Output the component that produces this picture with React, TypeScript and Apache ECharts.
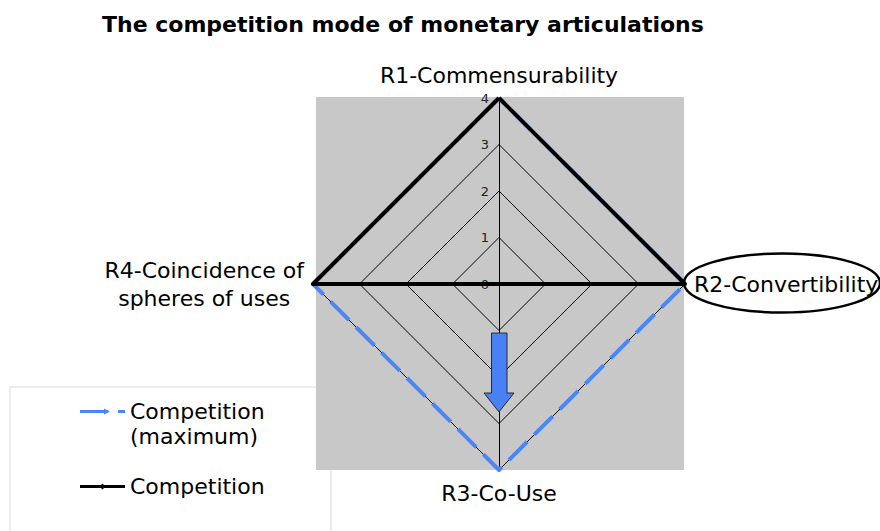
import React, { useEffect, useRef } from "react";
import * as echarts from "echarts";

const titleText = "The competition mode of monetary articulations";
const indicatorNames = [
  "R1-Commensurability",
  "R2-Convertibility",
  "R3-Co-Use",
  "R4-Coincidence of\nspheres of uses",
];
const indicatorMax = [4, 4, 4, 4];
const seriesNames = ["Competition (maximum)", "Competition"];
const competitionMax = [4, 4, 4, 4];
const competition = [4, 4, 0, 4];

// ECharts lays indicators counter-clockwise from the top; the reference runs clockwise.
const order = [0, 3, 2, 1];

export default function App() {
  const ref = useRef<HTMLDivElement>(null);
  useEffect(() => {
    if (!ref.current) return;
    const chart = echarts.init(ref.current, null, { renderer: "svg" });
    const font = "DejaVu Sans";
    const option: any = {
      animation: false,
      backgroundColor: "#ffffff",
      title: {
        text: titleText,
        left: 97,
        top: 8,
        textStyle: { fontFamily: font, fontSize: 22, fontWeight: "bold", color: "#000" },
      },
      graphic: [
        {
          type: "rect",
          z: -20,
          shape: { x: 10, y: 387, width: 321, height: 160 },
          style: { fill: "#ffffff", stroke: "#d9d9d9", lineWidth: 1 },
        },
        {
          type: "rect",
          z: -10,
          shape: { x: 316, y: 97, width: 368, height: 373 },
          style: { fill: "#c8c8c8" },
        },
        {
          type: "polygon",
          z: 100,
          shape: {
            points: [
              [491.5, 333],
              [507, 333],
              [507, 393],
              [514, 393],
              [499, 412],
              [484, 393],
              [491.5, 393],
            ],
          },
          style: { fill: "#4a80f5", stroke: "#2a2a2a", lineWidth: 1 },
        },
        {
          type: "ellipse",
          z: 100,
          shape: { cx: 782, cy: 283, rx: 98, ry: 29.5 },
          style: { fill: "none", stroke: "#000", lineWidth: 2.5 },
        },
      ],
      legend: {
        orient: "vertical",
        left: 80,
        top: 374,
        padding: 0,
        itemWidth: 45,
        itemHeight: 14,
        itemGap: 25,
        selectedMode: false,
        formatter: (n: string) => (n === seriesNames[0] ? " \nCompetition\n(maximum)" : n),
        textStyle: { fontFamily: font, fontSize: 22, color: "#000", lineHeight: 25 },
        data: [
          {
            name: seriesNames[0],
            icon: "path://M0,2.5L28,2.5L28,5.5L0,5.5Z M24,1L30,4L24,7Z M38,2.5L45,2.5L45,5.5L38,5.5Z",
          },
          {
            name: seriesNames[1],
            icon: "path://M0,2.5L45,2.5L45,5.5L0,5.5Z M22.5,1L25.5,4L22.5,7L19.5,4Z",
          },
        ],
      },
      radar: {
        center: [499, 284],
        radius: 186,
        shape: "polygon",
        splitNumber: 4,
        nameGap: 9,
        axisName: {
          color: "#000",
          fontFamily: font,
          fontSize: 22,
          lineHeight: 28,
          formatter: (name: string) =>
            name.indexOf("\n") >= 0
              ? name
                  .split("\n")
                  .map((l) => "{c|" + l + "}")
                  .join("\n")
              : name,
          rich: {
            c: { fontFamily: font, fontSize: 22, lineHeight: 28, color: "#000", align: "center" },
          },
        },
        axisLine: { show: true, lineStyle: { color: "#000", width: 1 } },
        splitLine: { show: true, lineStyle: { color: "#000", width: 1 } },
        splitArea: { show: false },
        axisTick: { show: false },
        axisLabel: { show: false },
        indicator: order.map((i, k) => ({
          name: indicatorNames[i],
          min: 0,
          max: indicatorMax[i],
          ...(k === 0
            ? {
                axisLabel: {
                  show: true,
                  fontFamily: font,
                  fontSize: 13,
                  color: "#222",
                  margin: 10,
                  showMinLabel: true,
                },
              }
            : {}),
        })),
      },
      series: [
        {
          type: "radar",
          symbol: "none",
          data: [
            {
              name: seriesNames[0],
              value: order.map((i) => competitionMax[i]),
              itemStyle: { color: "#4a86f8" },
              lineStyle: { color: "#4a86f8", width: 4, type: [26, 10] },
            },
            {
              name: seriesNames[1],
              value: order.map((i) => competition[i]),
              itemStyle: { color: "#000" },
              lineStyle: { color: "#000", width: 4, type: "solid" },
            },
          ],
        },
      ],
    };
    chart.setOption(option);
    return () => chart.dispose();
  }, []);
  return (
    <div
      ref={ref}
      style={{ position: "fixed", left: 0, top: 0, width: 880, height: 531 }}
    />
  );
}
